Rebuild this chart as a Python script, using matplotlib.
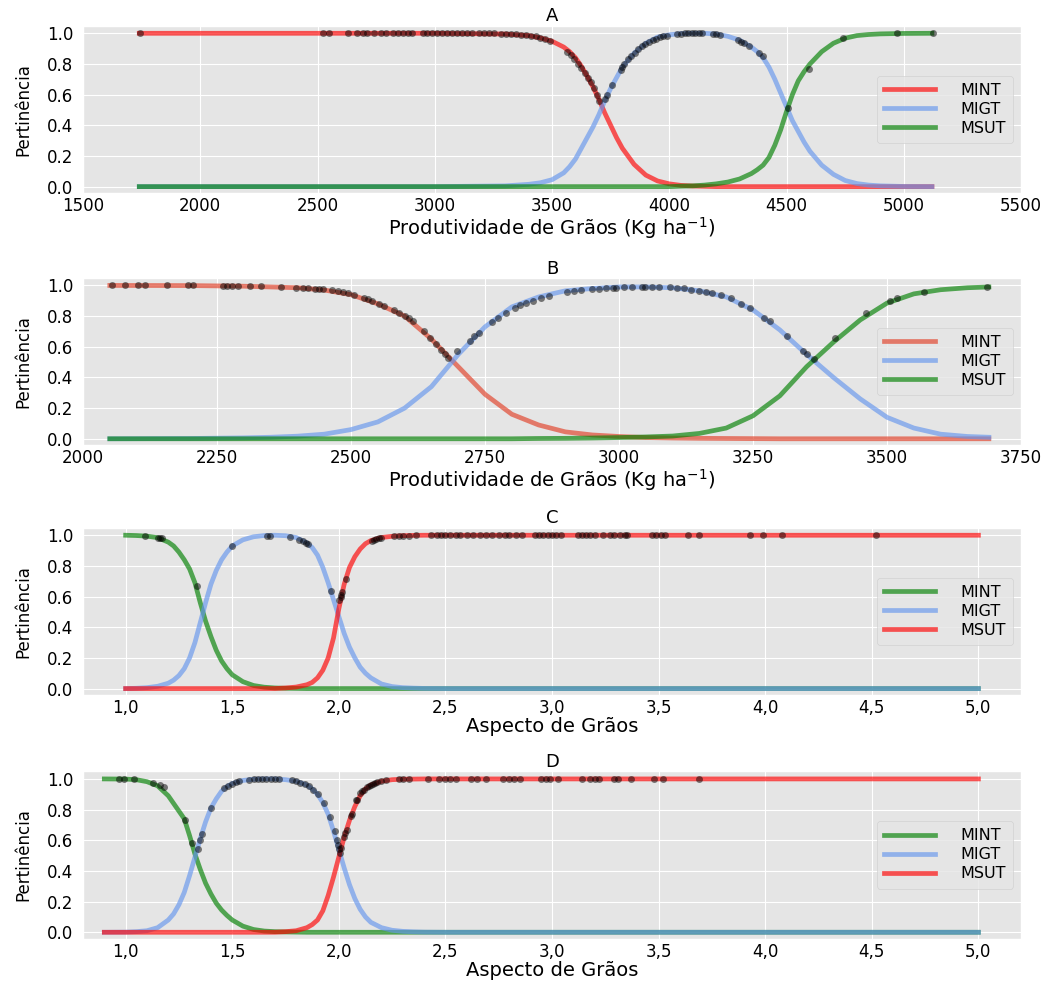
import numpy as np
import matplotlib
matplotlib.use("Agg")
import matplotlib.pyplot as plt
from matplotlib.ticker import FuncFormatter

# ---------------- Panel A: Produtividade (curves) ----------------
a_x = [1740, 3000, 3300, 3400, 3450, 3500, 3550, 3575, 3600, 3625, 3650, 3675, 3700,
       3725, 3750, 3775, 3800, 3850, 3900, 3950, 4000, 4050, 4100, 4150, 4200, 4250,
       4300, 4350, 4375, 4400, 4425, 4450, 4475, 4500, 4525, 4550, 4575, 4600, 4650,
       4700, 4750, 4800, 4850, 4900, 5000, 5120]
a_mint = [1.0, 1.0, 0.995, 0.985, 0.97, 0.948, 0.91, 0.88, 0.84, 0.785, 0.72, 0.65, 0.57,
          0.48, 0.4, 0.32, 0.25, 0.145, 0.075, 0.037, 0.018, 0.008, 0.004, 0.002, 0.0, 0.0,
          0.0, 0.0, 0.0, 0.0, 0.0, 0.0, 0.0, 0.0, 0.0, 0.0, 0.0, 0.0, 0.0,
          0.0, 0.0, 0.0, 0.0, 0.0, 0.0, 0.0]
a_migt = [0.0, 0.0, 0.005, 0.015, 0.025, 0.045, 0.09, 0.13, 0.18, 0.25, 0.32, 0.39, 0.47,
          0.56, 0.64, 0.71, 0.78, 0.87, 0.935, 0.975, 0.99, 0.998, 1.0, 1.0, 0.995, 0.98,
          0.955, 0.91, 0.88, 0.84, 0.78, 0.7, 0.61, 0.52, 0.43, 0.36, 0.29, 0.23, 0.14,
          0.08, 0.04, 0.02, 0.01, 0.005, 0.001, 0.0]
a_msut = [0.0, 0.0, 0.0, 0.0, 0.0, 0.0, 0.0, 0.0, 0.0, 0.0, 0.0, 0.0, 0.0,
          0.0, 0.0, 0.0, 0.0, 0.0, 0.0, 0.0, 0.0, 0.003, 0.005, 0.01, 0.018, 0.03,
          0.05, 0.085, 0.11, 0.14, 0.19, 0.27, 0.37, 0.49, 0.6, 0.69, 0.75, 0.8, 0.88,
          0.935, 0.968, 0.985, 0.992, 0.996, 0.999, 1.0]
a_dot_x = [1745, 2523, 2548, 2631, 2670, 2692, 2710, 2739, 2771, 2792, 2821, 2843, 2865,
           2886, 2903, 2951, 2965, 2987, 3009, 3030, 3052, 3073, 3095, 3117, 3138, 3160,
           3189, 3210, 3232, 3254, 3282, 3304, 3326, 3347, 3369, 3390, 3410, 3430, 3450,
           3470, 3490, 3565, 3580, 3595, 3612, 3625, 3640, 3652, 3665, 3678, 3690, 3700,
           3724, 3735, 3755, 3792, 3800, 3808, 3823, 3838, 3853, 3868, 3883, 3898, 3914,
           3929, 3944, 3959, 3974, 3989, 4035, 4050, 4065, 4080, 4095, 4110, 4126, 4141,
           4186, 4200, 4217, 4292, 4305, 4320, 4338, 4383, 4398,
           4505, 4595, 4741, 4971, 5123]
a_dot_y = [1.0, 1.0, 1.0, 1.0, 1.0, 1.0, 1.0, 1.0, 1.0, 1.0, 1.0, 1.0, 1.0,
           1.0, 1.0, 1.0, 1.0, 1.0, 1.0, 1.0, 1.0, 1.0, 1.0, 1.0, 1.0, 1.0,
           1.0, 1.0, 1.0, 1.0, 0.998, 0.997, 0.995, 0.993, 0.99, 0.987, 0.984, 0.98, 0.972,
           0.962, 0.95, 0.88, 0.86, 0.835, 0.8, 0.775, 0.74, 0.71, 0.68, 0.64, 0.6, 0.56,
           0.57, 0.6, 0.66, 0.76, 0.78, 0.8, 0.83, 0.85, 0.87, 0.9, 0.915, 0.93, 0.945,
           0.955, 0.965, 0.975, 0.98, 0.985, 0.995, 0.997, 0.999, 1.0, 1.0, 1.0, 1.0, 1.0,
           0.995, 0.993, 0.99, 0.955, 0.945, 0.935, 0.92, 0.87, 0.85,
           0.51, 0.77, 0.967, 0.999, 1.0]

# ---------------- Panel B ----------------
b_x = [2050, 2200, 2300, 2350, 2400, 2450, 2500, 2550, 2600, 2650, 2700, 2750, 2800,
       2850, 2900, 2950, 3000, 3050, 3100, 3150, 3200, 3250, 3300, 3350, 3400, 3450,
       3500, 3550, 3600, 3650, 3690]
b_mint = [1.0, 0.999, 0.995, 0.99, 0.985, 0.97, 0.94, 0.88, 0.8, 0.65, 0.47, 0.29, 0.16,
          0.09, 0.045, 0.025, 0.015, 0.008, 0.005, 0.003, 0.002, 0.001, 0.0, 0.0, 0.0, 0.0,
          0.0, 0.0, 0.0, 0.0, 0.0]
b_migt = [0.0, 0.002, 0.006, 0.01, 0.017, 0.03, 0.06, 0.11, 0.2, 0.34, 0.55, 0.73, 0.86,
          0.925, 0.965, 0.98, 0.99, 0.99, 0.985, 0.965, 0.925, 0.84, 0.71, 0.55, 0.4, 0.26,
          0.14, 0.07, 0.03, 0.015, 0.01]
b_msut = [0.0, 0.0, 0.0, 0.0, 0.0, 0.0, 0.0, 0.0, 0.0, 0.0, 0.0, 0.0, 0.0,
          0.002, 0.003, 0.005, 0.008, 0.012, 0.018, 0.035, 0.07, 0.15, 0.28, 0.47, 0.63, 0.775,
          0.885, 0.945, 0.972, 0.985, 0.99]
b_dot_x = [2054, 2078, 2102, 2116, 2157, 2195, 2206, 2261, 2269, 2278, 2290, 2311, 2332,
           2370, 2398, 2410, 2420, 2432, 2440, 2448, 2464, 2475, 2485, 2495, 2505, 2524,
           2532, 2540, 2552, 2562, 2581, 2590, 2600, 2608, 2615, 2637, 2648, 2658, 2668,
           2676, 2681,
           2698, 2722, 2730, 2738, 2763, 2775, 2790, 2805, 2815, 2826, 2840, 2855, 2869,
           2903, 2916, 2929, 2949, 2962, 2975, 2989, 2995, 3010, 3025, 3042, 3048, 3062,
           3075, 3095, 3108, 3121, 3135, 3150, 3162, 3174, 3191, 3208, 3227, 3244, 3271,
           3281, 3314, 3343, 3350,
           3363, 3403, 3461, 3506, 3518, 3569, 3686]
b_dot_y = [1.0, 1.0, 1.0, 1.0, 1.0, 1.0, 1.0, 0.999, 0.999, 0.999, 0.998, 0.997, 0.995,
           0.99, 0.986, 0.984, 0.982, 0.98, 0.978, 0.976, 0.97, 0.965, 0.958, 0.95, 0.94, 0.92,
           0.91, 0.9, 0.88, 0.865, 0.84, 0.82, 0.8, 0.785, 0.77, 0.7, 0.66, 0.62, 0.58,
           0.55, 0.53,
           0.57, 0.64, 0.67, 0.69, 0.76, 0.79, 0.82, 0.85, 0.87, 0.885, 0.9, 0.915, 0.93,
           0.955, 0.962, 0.968, 0.975, 0.978, 0.982, 0.985, 0.986, 0.988, 0.989, 0.99, 0.99, 0.99,
           0.989, 0.987, 0.985, 0.982, 0.972, 0.965, 0.958, 0.95, 0.935, 0.915, 0.88, 0.85, 0.79,
           0.77, 0.67, 0.57, 0.55,
           0.52, 0.66, 0.82, 0.9, 0.915, 0.96, 0.99]

# ---------------- Panel C: Aspecto ----------------
c_x = [1.0, 1.05, 1.1, 1.15, 1.2, 1.225, 1.25, 1.275, 1.3, 1.325, 1.35, 1.375, 1.4,
       1.425, 1.45, 1.475, 1.5, 1.55, 1.6, 1.65, 1.7, 1.75, 1.8, 1.85, 1.875, 1.9,
       1.925, 1.95, 1.975, 2.0, 2.025, 2.05, 2.075, 2.1, 2.125, 2.15, 2.2, 2.25, 2.3,
       2.35, 2.4, 2.5, 3.0, 4.0, 5.0]
c_mint = [1.0, 0.998, 0.994, 0.984, 0.955, 0.93, 0.89, 0.84, 0.78, 0.69, 0.56, 0.44, 0.34,
          0.25, 0.18, 0.13, 0.09, 0.045, 0.02, 0.009, 0.004, 0.002, 0.001, 0.0, 0.0, 0.0,
          0.0, 0.0, 0.0, 0.0, 0.0, 0.0, 0.0, 0.0, 0.0, 0.0, 0.0, 0.0, 0.0,
          0.0, 0.0, 0.0, 0.0, 0.0, 0.0]
c_migt = [0.0, 0.002, 0.006, 0.015, 0.035, 0.055, 0.085, 0.13, 0.2, 0.3, 0.43, 0.56, 0.68,
          0.77, 0.84, 0.89, 0.93, 0.97, 0.99, 0.998, 1.0, 0.997, 0.985, 0.95, 0.92, 0.87,
          0.79, 0.69, 0.58, 0.47, 0.36, 0.27, 0.2, 0.14, 0.1, 0.07, 0.03, 0.013, 0.006,
          0.003, 0.001, 0.0, 0.0, 0.0, 0.0]
c_msut = [0.0, 0.0, 0.0, 0.0, 0.0, 0.0, 0.0, 0.0, 0.0, 0.0, 0.0, 0.0, 0.0,
          0.0, 0.0, 0.0, 0.0, 0.0, 0.0, 0.0, 0.0, 0.004, 0.01, 0.025, 0.04, 0.07,
          0.12, 0.2, 0.33, 0.52, 0.68, 0.79, 0.86, 0.91, 0.945, 0.965, 0.985, 0.993, 0.997,
          0.999, 1.0, 1.0, 1.0, 1.0, 1.0]
c_dot_x = [1.09, 1.15, 1.16, 1.17, 1.333,
           1.5, 1.665, 1.675, 1.77, 1.815, 1.83, 1.845, 1.855, 1.962,
           2.003, 2.008, 2.012, 2.017, 2.033, 2.155, 2.165, 2.175, 2.19, 2.2, 2.26, 2.28,
           2.3, 2.33, 2.36, 2.43, 2.46, 2.48, 2.5, 2.52, 2.55, 2.57, 2.6, 2.63, 2.66,
           2.69, 2.72, 2.75, 2.78, 2.8, 2.83, 2.86, 2.92, 2.94, 2.96, 2.98, 3.0, 3.02,
           3.04, 3.12, 3.14, 3.16, 3.18, 3.2, 3.24, 3.27, 3.29, 3.32, 3.34, 3.35, 3.47,
           3.49, 3.51, 3.53, 3.64, 3.69, 3.93, 3.99, 4.08, 4.52]
c_dot_y = [0.995, 0.985, 0.983, 0.98, 0.667,
           0.93, 0.998, 0.998, 0.99, 0.97, 0.96, 0.95, 0.94, 0.635,
           0.58, 0.6, 0.61, 0.63, 0.715, 0.965, 0.972, 0.977, 0.982, 0.985, 0.995, 0.996,
           0.997, 0.998, 0.999, 1.0, 1.0, 1.0, 1.0, 1.0, 1.0, 1.0, 1.0, 1.0, 1.0,
           1.0, 1.0, 1.0, 1.0, 1.0, 1.0, 1.0, 1.0, 1.0, 1.0, 1.0, 1.0, 1.0,
           1.0, 1.0, 1.0, 1.0, 1.0, 1.0, 1.0, 1.0, 1.0, 1.0, 1.0, 1.0, 1.0,
           1.0, 1.0, 1.0, 1.0, 1.0, 1.0, 1.0, 1.0, 1.0]

# ---------------- Panel D ----------------
d_x = [0.9, 1.0, 1.05, 1.1, 1.15, 1.2, 1.225, 1.25, 1.275, 1.3, 1.325, 1.35, 1.375,
       1.4, 1.425, 1.45, 1.475, 1.5, 1.55, 1.6, 1.65, 1.7, 1.75, 1.8, 1.85, 1.875,
       1.9, 1.925, 1.95, 1.975, 2.0, 2.025, 2.05, 2.075, 2.1, 2.125, 2.15, 2.2, 2.25,
       2.3, 2.35, 2.4, 2.5, 3.0, 4.0, 5.0]
d_mint = [1.0, 0.999, 0.995, 0.982, 0.955, 0.89, 0.84, 0.79, 0.74, 0.63, 0.51, 0.41, 0.32,
          0.25, 0.19, 0.145, 0.11, 0.08, 0.04, 0.018, 0.008, 0.004, 0.002, 0.001, 0.0, 0.0,
          0.0, 0.0, 0.0, 0.0, 0.0, 0.0, 0.0, 0.0, 0.0, 0.0, 0.0, 0.0, 0.0,
          0.0, 0.0, 0.0, 0.0, 0.0, 0.0, 0.0]
d_migt = [0.0, 0.001, 0.004, 0.01, 0.03, 0.08, 0.12, 0.18, 0.26, 0.37, 0.49, 0.61, 0.72,
          0.81, 0.87, 0.92, 0.95, 0.97, 0.99, 0.998, 1.0, 1.0, 0.995, 0.985, 0.96, 0.935,
          0.9, 0.845, 0.77, 0.66, 0.54, 0.42, 0.31, 0.22, 0.15, 0.1, 0.065, 0.03, 0.013,
          0.006, 0.003, 0.001, 0.0, 0.0, 0.0, 0.0]
d_msut = [0.0, 0.0, 0.0, 0.0, 0.0, 0.0, 0.0, 0.0, 0.0, 0.0, 0.0, 0.0, 0.0,
          0.0, 0.0, 0.0, 0.0, 0.0, 0.0, 0.0, 0.0, 0.0, 0.004, 0.01, 0.03, 0.05,
          0.08, 0.14, 0.24, 0.36, 0.49, 0.62, 0.73, 0.82, 0.89, 0.935, 0.96, 0.985, 0.995,
          0.998, 0.999, 1.0, 1.0, 1.0, 1.0, 1.0]
d_dot_x = [0.97, 0.99, 1.04, 1.13, 1.16, 1.18, 1.28, 1.31,
           1.34, 1.35, 1.36, 1.4, 1.46, 1.48, 1.5, 1.52, 1.53, 1.58, 1.6, 1.62, 1.64,
           1.66, 1.68, 1.7, 1.72, 1.78, 1.8, 1.82, 1.84, 1.86, 1.88, 1.9, 1.93, 1.96,
           1.98, 1.99, 1.995, 2.0,
           2.005, 2.01, 2.025, 2.03, 2.04, 2.055, 2.06, 2.08, 2.085, 2.1, 2.11, 2.12,
           2.13, 2.14, 2.15, 2.16, 2.17, 2.18, 2.2, 2.22, 2.28, 2.3, 2.33, 2.42, 2.47,
           2.5, 2.52, 2.55, 2.62, 2.65, 2.69, 2.77, 2.8, 2.82, 2.85, 2.95, 2.97, 2.99,
           3.03, 3.14, 3.18, 3.2, 3.22, 3.29, 3.31, 3.37, 3.48, 3.52, 3.69]
d_dot_y = [1.0, 1.0, 0.997, 0.975, 0.96, 0.95, 0.73, 0.58,
           0.54, 0.6, 0.64, 0.81, 0.94, 0.955, 0.97, 0.98, 0.985, 0.995, 0.998, 1.0, 1.0,
           1.0, 1.0, 1.0, 1.0, 0.99, 0.985, 0.975, 0.965, 0.955, 0.93, 0.9, 0.84, 0.75,
           0.66, 0.6, 0.57, 0.54,
           0.52, 0.55, 0.62, 0.65, 0.67, 0.76, 0.77, 0.86, 0.865, 0.91, 0.92, 0.93,
           0.945, 0.955, 0.96, 0.967, 0.972, 0.978, 0.985, 0.99, 0.998, 0.999, 1.0, 1.0, 1.0,
           1.0, 1.0, 1.0, 1.0, 1.0, 1.0, 1.0, 1.0, 1.0, 1.0, 1.0, 1.0, 1.0,
           1.0, 1.0, 1.0, 1.0, 1.0, 1.0, 1.0, 1.0, 1.0, 1.0, 1.0]

labels = ["MINT", "MIGT", "MSUT"]
prod_label = "Produtividade de Grãos (Kg ha$^{-1}$)"
asp_label = "Aspecto de Grãos"

plt.style.use("ggplot")
plt.rcParams["font.family"] = ["DejaVu Sans"]

fig = plt.figure(figsize=(10.56, 9.85), dpi=100)
left, width, height = 0.0786, 0.8883, 0.1700
bottoms = [0.804, 0.548, 0.2944, 0.047]

panels = [
    ("A", a_x, [(a_mint, "red"), (a_migt, "cornflowerblue"), (a_msut, "green")],
     a_dot_x, a_dot_y, prod_label, (1500, 5500), np.arange(1500, 5501, 500), False),
    ("B", b_x, [(b_mint, "#E24A33"), (b_migt, "cornflowerblue"), (b_msut, "green")],
     b_dot_x, b_dot_y, prod_label, (2000, 3750), np.arange(2000, 3751, 250), False),
    ("C", c_x, [(c_mint, "green"), (c_migt, "cornflowerblue"), (c_msut, "red")],
     c_dot_x, c_dot_y, asp_label, (0.8, 5.2), np.arange(1.0, 5.01, 0.5), True),
    ("D", d_x, [(d_mint, "green"), (d_migt, "cornflowerblue"), (d_msut, "red")],
     d_dot_x, d_dot_y, asp_label, (0.8, 5.2), np.arange(1.0, 5.01, 0.5), True),
]

for bottom, (title, x, curves, dx, dy, xlabel, xlim, xticks, comma) in zip(bottoms, panels):
    ax = fig.add_axes([left, bottom, width, height])
    for (y, color), lab in zip(curves, labels):
        alpha = 0.65 if color != "#E24A33" else 0.7
        ax.plot(x, y, color=color, alpha=alpha, lw=3.4, label=lab)
    ax.plot(dx, dy, "o", color="black", alpha=0.5, ms=5, mew=0)

    ax.set_xlim(*xlim)
    ax.set_ylim(-0.042, 1.05)
    ax.set_xticks(xticks)
    ax.set_yticks([0.0, 0.2, 0.4, 0.6, 0.8, 1.0])
    if comma:
        ax.xaxis.set_major_formatter(FuncFormatter(lambda v, p: f"{v:.1f}".replace(".", ",")))
    ax.tick_params(axis="both", length=0, labelsize=12, colors="black")
    ax.tick_params(axis="x", pad=3)
    ax.tick_params(axis="y", pad=7)

    ax.set_title(title, fontsize=13, color="black", pad=3)
    ax.set_xlabel(xlabel, fontsize=14, color="black", labelpad=0)
    ax.set_ylabel("Pertinência", fontsize=12, color="black")
    ax.yaxis.set_label_coords(-0.054, 0.5)
    ax.legend(loc="center right", fontsize=11.5, handlelength=3.2, handletextpad=1.6,
              labelspacing=0.25, borderpad=0.45)

fig.savefig("out.png", dpi=100)
